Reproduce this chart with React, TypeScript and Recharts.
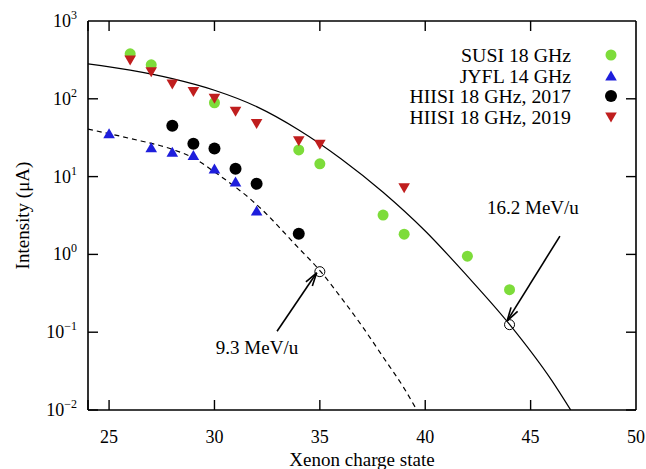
import {
  ComposedChart,
  Line,
  Scatter,
  XAxis,
  YAxis,
  CartesianGrid,
  ReferenceDot,
  ReferenceLine,
} from "recharts";

// measured points
const susiX = [26, 27, 30, 34, 35, 38, 39, 42, 44];
const susiY = [378, 273, 89, 22, 14.6, 3.2, 1.82, 0.95, 0.352];

const jyflX = [25, 27, 28, 29, 30, 31, 32];
const jyflY = [35.5, 23.5, 20.5, 18.7, 12.5, 8.5, 3.6];

const hiisi17X = [28, 29, 30, 31, 32, 34];
const hiisi17Y = [45, 26.5, 23, 12.6, 8.1, 1.84];

const hiisi19X = [26, 27, 28, 29, 30, 31, 32, 34, 35, 39];
const hiisi19Y = [316, 222, 155, 124, 102, 69, 48, 29, 26, 7.2];

// curves
const solidX = [24, 26, 28, 30, 32, 34, 36, 38, 40, 42, 44, 46, 46.9];
const solidY = [282, 234, 182, 129, 79.4, 39.8, 17, 6.3, 2.0, 0.525, 0.126, 0.024, 0.01];

const dashX = [24, 26, 28, 29, 30, 32, 34, 35, 36, 37, 38, 39, 39.6];
const dashY = [40.7, 30.9, 22.4, 17.4, 11.5, 4.37, 1.2, 0.62, 0.28, 0.12, 0.048, 0.019, 0.01];

const xTicks = [25, 30, 35, 40, 45, 50];
const yTicks = [0.01, 0.1, 1, 10, 100, 1000];
const yTickExp = ["\u22122", "\u22121", "0", "1", "2", "3"];

const seriesNames = ["SUSI 18 GHz", "JYFL 14 GHz", "HIISI 18 GHz, 2017", "HIISI 18 GHz, 2019"];
const seriesColors = ["#7ddc3a", "#1e1edc", "#000000", "#c01e1e"];

const pts = (xs: number[], ys: number[]) => xs.map((x, i) => ({ x, y: ys[i] }));

const FONT = "'Liberation Serif', 'DejaVu Serif', serif";
const TICK = 10;

function Marker({ kind, cx, cy, color }: any) {
  if (kind === "circle") return <circle cx={cx} cy={cy} r={5.5} fill={color} />;
  if (kind === "big") return <circle cx={cx} cy={cy} r={6} fill={color} />;
  if (kind === "up")
    return <polygon points={`${cx - 5.8},${cy + 4.5} ${cx + 5.8},${cy + 4.5} ${cx},${cy - 5.5}`} fill={color} />;
  return <polygon points={`${cx - 5.8},${cy - 4.5} ${cx + 5.8},${cy - 4.5} ${cx},${cy + 5.5}`} fill={color} />;
}

const kinds = ["circle", "up", "big", "down"];

function Arrow(p: any) {
  const { x1, y1, x2, y2 } = p;
  const a = Math.atan2(y2 - y1, x2 - x1);
  const len = 14;
  const spread = 0.28;
  const h1x = x2 - len * Math.cos(a - spread);
  const h1y = y2 - len * Math.sin(a - spread);
  const h2x = x2 - len * Math.cos(a + spread);
  const h2y = y2 - len * Math.sin(a + spread);
  return (
    <g stroke="#000" strokeWidth={1.6} fill="none">
      <line x1={x1} y1={y1} x2={x2} y2={y2} />
      <line x1={x2} y1={y2} x2={h1x} y2={h1y} />
      <line x1={x2} y1={y2} x2={h2x} y2={h2y} />
    </g>
  );
}

// grid lines drawn as inward ticks on both sides; the edge lines become the frame
function HTicks(p: any) {
  const { x1, x2, y1, y, index } = p;
  if (Math.abs(y1 - y) < 0.5) {
    return <line key={`h${index}`} x1={x1} x2={x2} y1={y1} y2={y1} stroke="#000" strokeWidth={1.6} />;
  }
  return (
    <g key={`h${index}`} stroke="#000" strokeWidth={1.4}>
      <line x1={x1} x2={x1 + TICK} y1={y1} y2={y1} />
      <line x1={x2 - TICK} x2={x2} y1={y1} y2={y1} />
    </g>
  );
}

function VTicks(p: any) {
  const { x1, y1, y2, x, width, index } = p;
  if (Math.abs(x1 - (x + width)) < 0.5) {
    return <line key={`v${index}`} x1={x1} x2={x1} y1={y1} y2={y2} stroke="#000" strokeWidth={1.6} />;
  }
  return (
    <g key={`v${index}`} stroke="#000" strokeWidth={1.4}>
      <line x1={x1} x2={x1} y1={y1} y2={y1 + TICK} />
      <line x1={x1} x2={x1} y1={y2 - TICK} y2={y2} />
    </g>
  );
}

function XTick({ x, y, payload }: any) {
  return (
    <text x={x} y={y} dy={33} textAnchor="middle" fontSize={18} fontFamily={FONT} fill="#000">
      {payload.value}
    </text>
  );
}

function YTick({ x, y, index }: any) {
  return (
    <text x={x - 11} y={y} dy={6} textAnchor="end" fontSize={18} fontFamily={FONT} fill="#000">
      10
      <tspan dy={-8} fontSize={12}>
        {yTickExp[index]}
      </tspan>
    </text>
  );
}

function LegendBox() {
  return (
    <div style={{ position: "absolute", top: 45, right: 27, fontFamily: FONT, fontSize: 19.8, color: "#000" }}>
      {seriesNames.map((n, i) => (
        <div key={n} style={{ display: "flex", alignItems: "center", height: 20.5, justifyContent: "flex-end" }}>
          <span style={{ whiteSpace: "nowrap", lineHeight: "20px" }}>{n}</span>
          <svg width={16} height={16} style={{ marginLeft: 32 }}>
            <Marker kind={kinds[i]} cx={8} cy={8} color={seriesColors[i]} />
          </svg>
        </div>
      ))}
    </div>
  );
}

function LabelText(text: string) {
  return (p: any) => (
    <text x={p.cx} y={p.cy} dy={6} textAnchor="middle" fontSize={19} fontFamily={FONT} fill="#000">
      {text}
    </text>
  );
}

const frameStyle = { stroke: "#000", strokeWidth: 1.6 };

export default function App() {
  const series = [pts(susiX, susiY), pts(jyflX, jyflY), pts(hiisi17X, hiisi17Y), pts(hiisi19X, hiisi19Y)];
  return (
    <div style={{ position: "relative", width: 646, height: 469 }}>
      <style>{`body{margin:0}`}</style>
      <ComposedChart width={646} height={469} margin={{ top: 21, right: 10, bottom: 0, left: 0 }}>
        <CartesianGrid horizontal={HTicks} vertical={VTicks} />
        <XAxis
          dataKey="x"
          type="number"
          domain={[24, 50]}
          ticks={xTicks}
          allowDataOverflow
          height={59}
          tickLine={false}
          tickSize={0}
          tickMargin={0}
          tick={<XTick />}
          axisLine={frameStyle}
          label={(props: any) => {
            const vb = props.viewBox;
            return (
              <text x={vb.x + vb.width / 2} y={466} textAnchor="middle" fontSize={19} fontFamily={FONT} fill="#000">
                Xenon charge state
              </text>
            );
          }}
        />
        <YAxis
          dataKey="y"
          scale="log"
          type="number"
          domain={[0.01, 1000]}
          ticks={yTicks}
          allowDataOverflow
          width={88}
          tickLine={false}
          tickSize={0}
          tickMargin={0}
          tick={<YTick />}
          axisLine={frameStyle}
          label={(props: any) => {
            const vb = props.viewBox;
            const cy = vb.y + vb.height / 2;
            return (
              <text x={23} y={cy} transform={`rotate(-90 23 ${cy})`} dy={6} textAnchor="middle" fontSize={19}
                fontFamily={FONT} fill="#000">
                Intensity (μA)
              </text>
            );
          }}
        />

        <Line data={pts(solidX, solidY)} dataKey="y" type="monotone" stroke="#000" strokeWidth={1.2} dot={false}
          isAnimationActive={false} legendType="none" />
        <Line data={pts(dashX, dashY)} dataKey="y" type="monotone" stroke="#000" strokeWidth={1.2}
          strokeDasharray="5 4" dot={false} isAnimationActive={false} legendType="none" />

        {series.map((d, i) => (
          <Scatter
            key={seriesNames[i]}
            name={seriesNames[i]}
            data={d}
            fill={seriesColors[i]}
            isAnimationActive={false}
            shape={(p: any) => <Marker kind={kinds[i]} cx={p.cx} cy={p.cy} color={seriesColors[i]} />}
          />
        ))}

        <ReferenceDot x={35} y={0.6} r={5} fill="none" stroke="#000" strokeWidth={1} />
        <ReferenceDot x={44} y={0.125} r={5} fill="none" stroke="#000" strokeWidth={1} />
        <ReferenceLine segment={[{ x: 32.97, y: 0.103 }, { x: 34.85, y: 0.58 }]} shape={Arrow} />
        <ReferenceLine segment={[{ x: 46.39, y: 1.72 }, { x: 43.89, y: 0.14 }]} shape={Arrow} />
        <ReferenceDot x={32.02} y={0.0624} shape={LabelText("9.3 MeV/u")} />
        <ReferenceDot x={45.11} y={4.0} shape={LabelText("16.2 MeV/u")} />
      </ComposedChart>
      <LegendBox />
    </div>
  );
}
